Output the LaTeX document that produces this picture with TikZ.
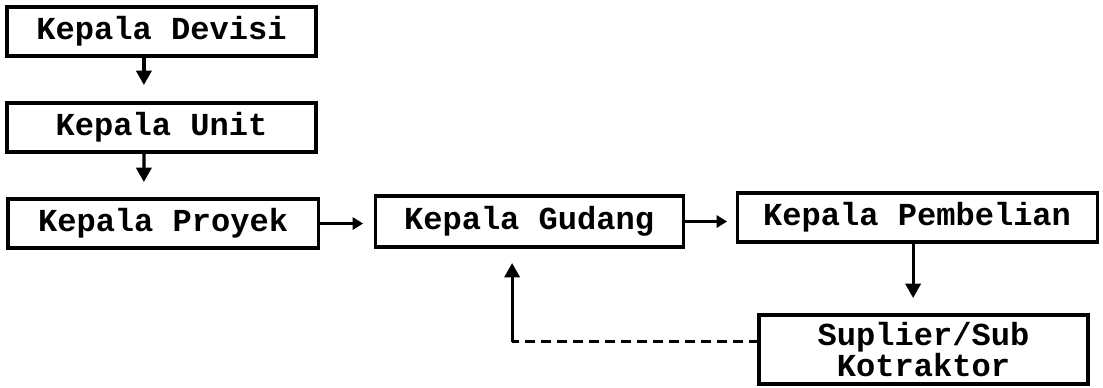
\documentclass[tikz,border=0pt]{standalone}
\usepackage{fontspec}
\setmonofont{Liberation Mono}
\usetikzlibrary{positioning, arrows.meta}

\begin{document}
\begin{tikzpicture}[
    x=0.25mm, y=0.25mm,
    every node/.style={draw, line width=0.8mm, inner sep=0pt, outer sep=0pt, font={\ttfamily\bfseries\fontsize{22.8}{21.5}\selectfont\lineskiplimit=-100pt}},
    jabatan/.style={rectangle, minimum width=77.25mm, minimum height=12.25mm},
    flow/.style={line width=0.8mm, -{Triangle[length=3.6mm, width=3.8mm]}},
    flow small/.style={line width=0.8mm, -{Triangle[length=2.6mm, width=3mm]}},
    feedback/.style={line width=0.8mm, dash pattern=on 2.6mm off 1.4mm}
]
\useasboundingbox (0,0) rectangle (1103,-387);

% Garis komando
\node[jabatan] (kepala_devisi) at (161.5,-31.5) {Kepala Devisi};
\node[jabatan, below=11.75mm of kepala_devisi] (kepala_unit) {Kepala Unit};
\node[jabatan, below=11.75mm of kepala_unit, xshift=0.4mm, minimum width=77.5mm] (kepala_proyek) {Kepala Proyek};
\node[jabatan, right=14.25mm of kepala_proyek, yshift=0.5mm, minimum width=77mm, minimum height=12.75mm] (kepala_gudang) {Kepala Gudang};
\node[jabatan, right=13.5mm of kepala_gudang, yshift=1mm, minimum width=90mm] (kepala_pembelian) {Kepala Pembelian};
\node[jabatan, below=18.25mm of kepala_pembelian, xshift=1.6mm, minimum width=82.25mm, minimum height=17.25mm, align=center] (suplier) {Suplier/Sub\\Kotraktor};

% Titik bantu
\coordinate (devisi_out) at ([xshift=-4.4mm]kepala_devisi.south);
\coordinate (unit_in) at ([xshift=-4.4mm]kepala_unit.north);
\coordinate (unit_out) at ([xshift=-4.4mm]kepala_unit.south);
\coordinate (proyek_in) at ([xshift=-4.8mm]kepala_proyek.north);
\coordinate (pembelian_out) at ([xshift=-1mm]kepala_pembelian.south);
\coordinate (suplier_in) at (pembelian_out |- suplier.north);
\coordinate (suplier_out) at ([yshift=2mm]suplier.west);
\coordinate (gudang_in) at ([xshift=-4.25mm]kepala_gudang.south);
\coordinate (turn) at (gudang_in |- suplier_out);

\draw[flow, shorten >=4.5mm] (devisi_out) -- (unit_in);
\draw[flow, shorten >=4.25mm] (unit_out) -- (proyek_in);
\draw[flow small, shorten >=3mm] (kepala_proyek.east) -- (kepala_proyek.east -| kepala_gudang.west);
\draw[flow small, shorten >=2.5mm] (kepala_gudang.east) -- (kepala_gudang.east -| kepala_pembelian.west);
\draw[flow, shorten >=4.25mm] (pembelian_out) -- (suplier_in);

% Umpan balik
\draw[feedback] (suplier_out) -- (turn);
\draw[flow, shorten >=4mm] (turn) -- (gudang_in);

\end{tikzpicture}
\end{document}
